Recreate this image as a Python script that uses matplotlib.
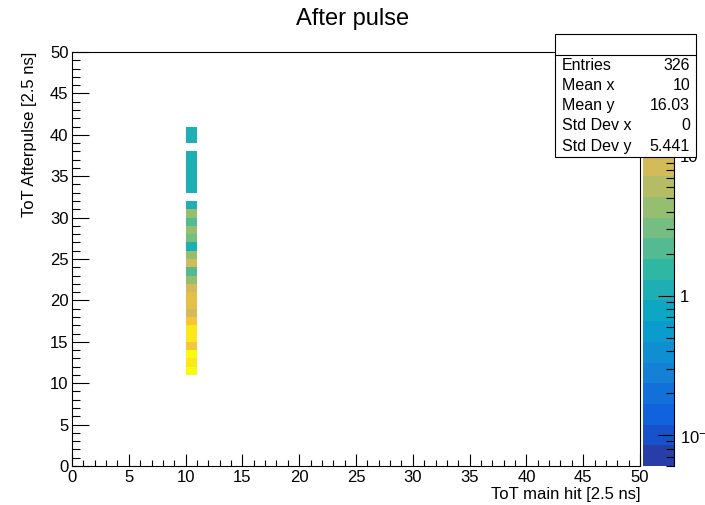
import numpy as np
import matplotlib
matplotlib.use("Agg")
import matplotlib.pyplot as plt
from matplotlib.colors import LinearSegmentedColormap, ListedColormap, BoundaryNorm
from matplotlib.ticker import MultipleLocator, LogLocator, FixedLocator, FixedFormatter, NullFormatter
from matplotlib.patches import Rectangle
from matplotlib.lines import Line2D

plt.rcParams['font.family'] = ['Liberation Sans', 'DejaVu Sans']
plt.rcParams['mathtext.fontset'] = 'custom'
plt.rcParams['mathtext.rm'] = 'Liberation Sans'

# histogram content: every entry has main hit ToT = 10
main_tot = 10
after_tot = [11, 12, 13, 14, 15, 16, 17, 18, 19, 20, 21, 22, 23, 24, 25,
             26, 27, 28, 29, 30, 31, 33, 34, 35, 36, 37, 39, 40]
counts = [50, 36, 50, 19, 34, 32, 19, 10, 13, 13, 9, 5, 2, 8, 4,
          1, 3, 4, 2, 4, 1, 1, 1, 1, 1, 1, 1, 1]

stat_names = ["Entries", "Mean x", "Mean y", "Std Dev x", "Std Dev y"]
stat_values = ["326", "10", "16.03", "0", "5.441"]

cb_ticks = [0.1, 1, 10]
cb_ticklabels = [r"$\mathregular{10^{-1}}$", "1", "10"]

# ROOT kBird palette
bird_stops = [0.0, 0.125, 0.25, 0.375, 0.5, 0.625, 0.75, 0.875, 1.0]
bird_red = [0.2082, 0.0592, 0.0780, 0.0232, 0.1802, 0.5301, 0.8186, 0.9956, 0.9764]
bird_green = [0.1664, 0.3599, 0.5041, 0.6419, 0.7178, 0.7492, 0.7328, 0.7862, 0.9832]
bird_blue = [0.5293, 0.8684, 0.8385, 0.7914, 0.6425, 0.4662, 0.3499, 0.1968, 0.0539]
bird = LinearSegmentedColormap.from_list(
    "bird", list(zip(bird_stops, zip(bird_red, bird_green, bird_blue))))

NCONT = 20
ZMIN, ZMAX = 0.06, 56.2
levels = np.logspace(np.log10(ZMIN), np.log10(ZMAX), NCONT + 1)
band_colors = [bird(int((i + 0.99) * 255 / NCONT) / 254) for i in range(NCONT)]
cmap = ListedColormap(band_colors)
norm = BoundaryNorm(levels, NCONT)

H = np.zeros((50, 50))
for y, c in zip(after_tot, counts):
    H[y, main_tot] = c
H = np.ma.masked_equal(H, 0)
edges = np.arange(51)

fig = plt.figure(figsize=(7.05, 5.05), dpi=100)
ax = fig.add_axes([72 / 705, 39 / 505, 568 / 705, 414 / 505])
ax.pcolormesh(edges, edges, H, cmap=cmap, norm=norm, linewidth=0, antialiased=False)
ax.set_xlim(0, 50)
ax.set_ylim(0, 50)
ax.xaxis.set_major_locator(MultipleLocator(5))
ax.xaxis.set_minor_locator(MultipleLocator(1))
ax.yaxis.set_major_locator(MultipleLocator(5))
ax.yaxis.set_minor_locator(MultipleLocator(1))
ax.tick_params(which='both', direction='in', top=False, right=False,
               labelsize=12, width=0.8, color='black')
ax.tick_params(axis='x', which='major', length=8.9, pad=3)
ax.tick_params(axis='x', which='minor', length=4.5)
ax.tick_params(axis='y', which='major', length=12.2, pad=2.5)
ax.tick_params(axis='y', which='minor', length=6.1)
for s in ax.spines.values():
    s.set_linewidth(0.8)
    s.set_color('black')

ax.set_xlabel("ToT main hit [2.5 ns]", fontsize=12, loc='right')
ax.xaxis.set_label_coords(1.0, -0.05)
ax.set_ylabel("ToT Afterpulse [2.5 ns]", fontsize=12, loc='top')
ax.yaxis.set_label_coords(-0.062, 1.0)

fig.text(0.5, 1 - 18.5 / 505, "After pulse", fontsize=17, ha='center', va='center')

# colour palette axis
cax = fig.add_axes([643 / 705, 39 / 505, 31 / 705, 414 / 505])
centers = np.sqrt(levels[:-1] * levels[1:]).reshape(-1, 1)
cax.set_yscale('log')
cax.pcolormesh([0, 1], levels, centers, cmap=cmap, norm=norm, linewidth=0, antialiased=False)
cax.set_xlim(0, 1)
cax.set_ylim(ZMIN, ZMAX)
cax.set_xticks([])
cax.yaxis.set_ticks_position('right')
cax.yaxis.set_major_locator(FixedLocator(cb_ticks))
cax.yaxis.set_major_formatter(FixedFormatter(cb_ticklabels))
cax.yaxis.set_minor_locator(LogLocator(base=10, subs=range(2, 10)))
cax.yaxis.set_minor_formatter(NullFormatter())
cax.tick_params(which='both', direction='in', labelsize=12, width=0.8, pad=4)
cax.tick_params(which='major', length=11.5)
cax.tick_params(which='minor', length=5.8)
for name, s in cax.spines.items():
    s.set_visible(name == 'right')
    s.set_linewidth(0.8)

# stats box
bx0, bx1 = 555 / 705, 696 / 705
by0, by1 = 1 - 157 / 505, 1 - 34 / 505
fig.add_artist(Rectangle((bx0, by0), bx1 - bx0, by1 - by0, transform=fig.transFigure,
                         facecolor='white', edgecolor='black', linewidth=0.8, zorder=10))
ydiv = 1 - 54.5 / 505
fig.add_artist(Line2D([bx0, bx1], [ydiv, ydiv], transform=fig.transFigure,
                      color='black', linewidth=0.8, zorder=11))
for i, (n, v) in enumerate(zip(stat_names, stat_values)):
    yb = 1 - (69.5 + 20.3 * i) / 505
    fig.text(562 / 705, yb, n, fontsize=11.5, ha='left', va='baseline', zorder=12)
    fig.text(690 / 705, yb, v, fontsize=11.5, ha='right', va='baseline', zorder=12)

fig.savefig("out.png", dpi=100)
